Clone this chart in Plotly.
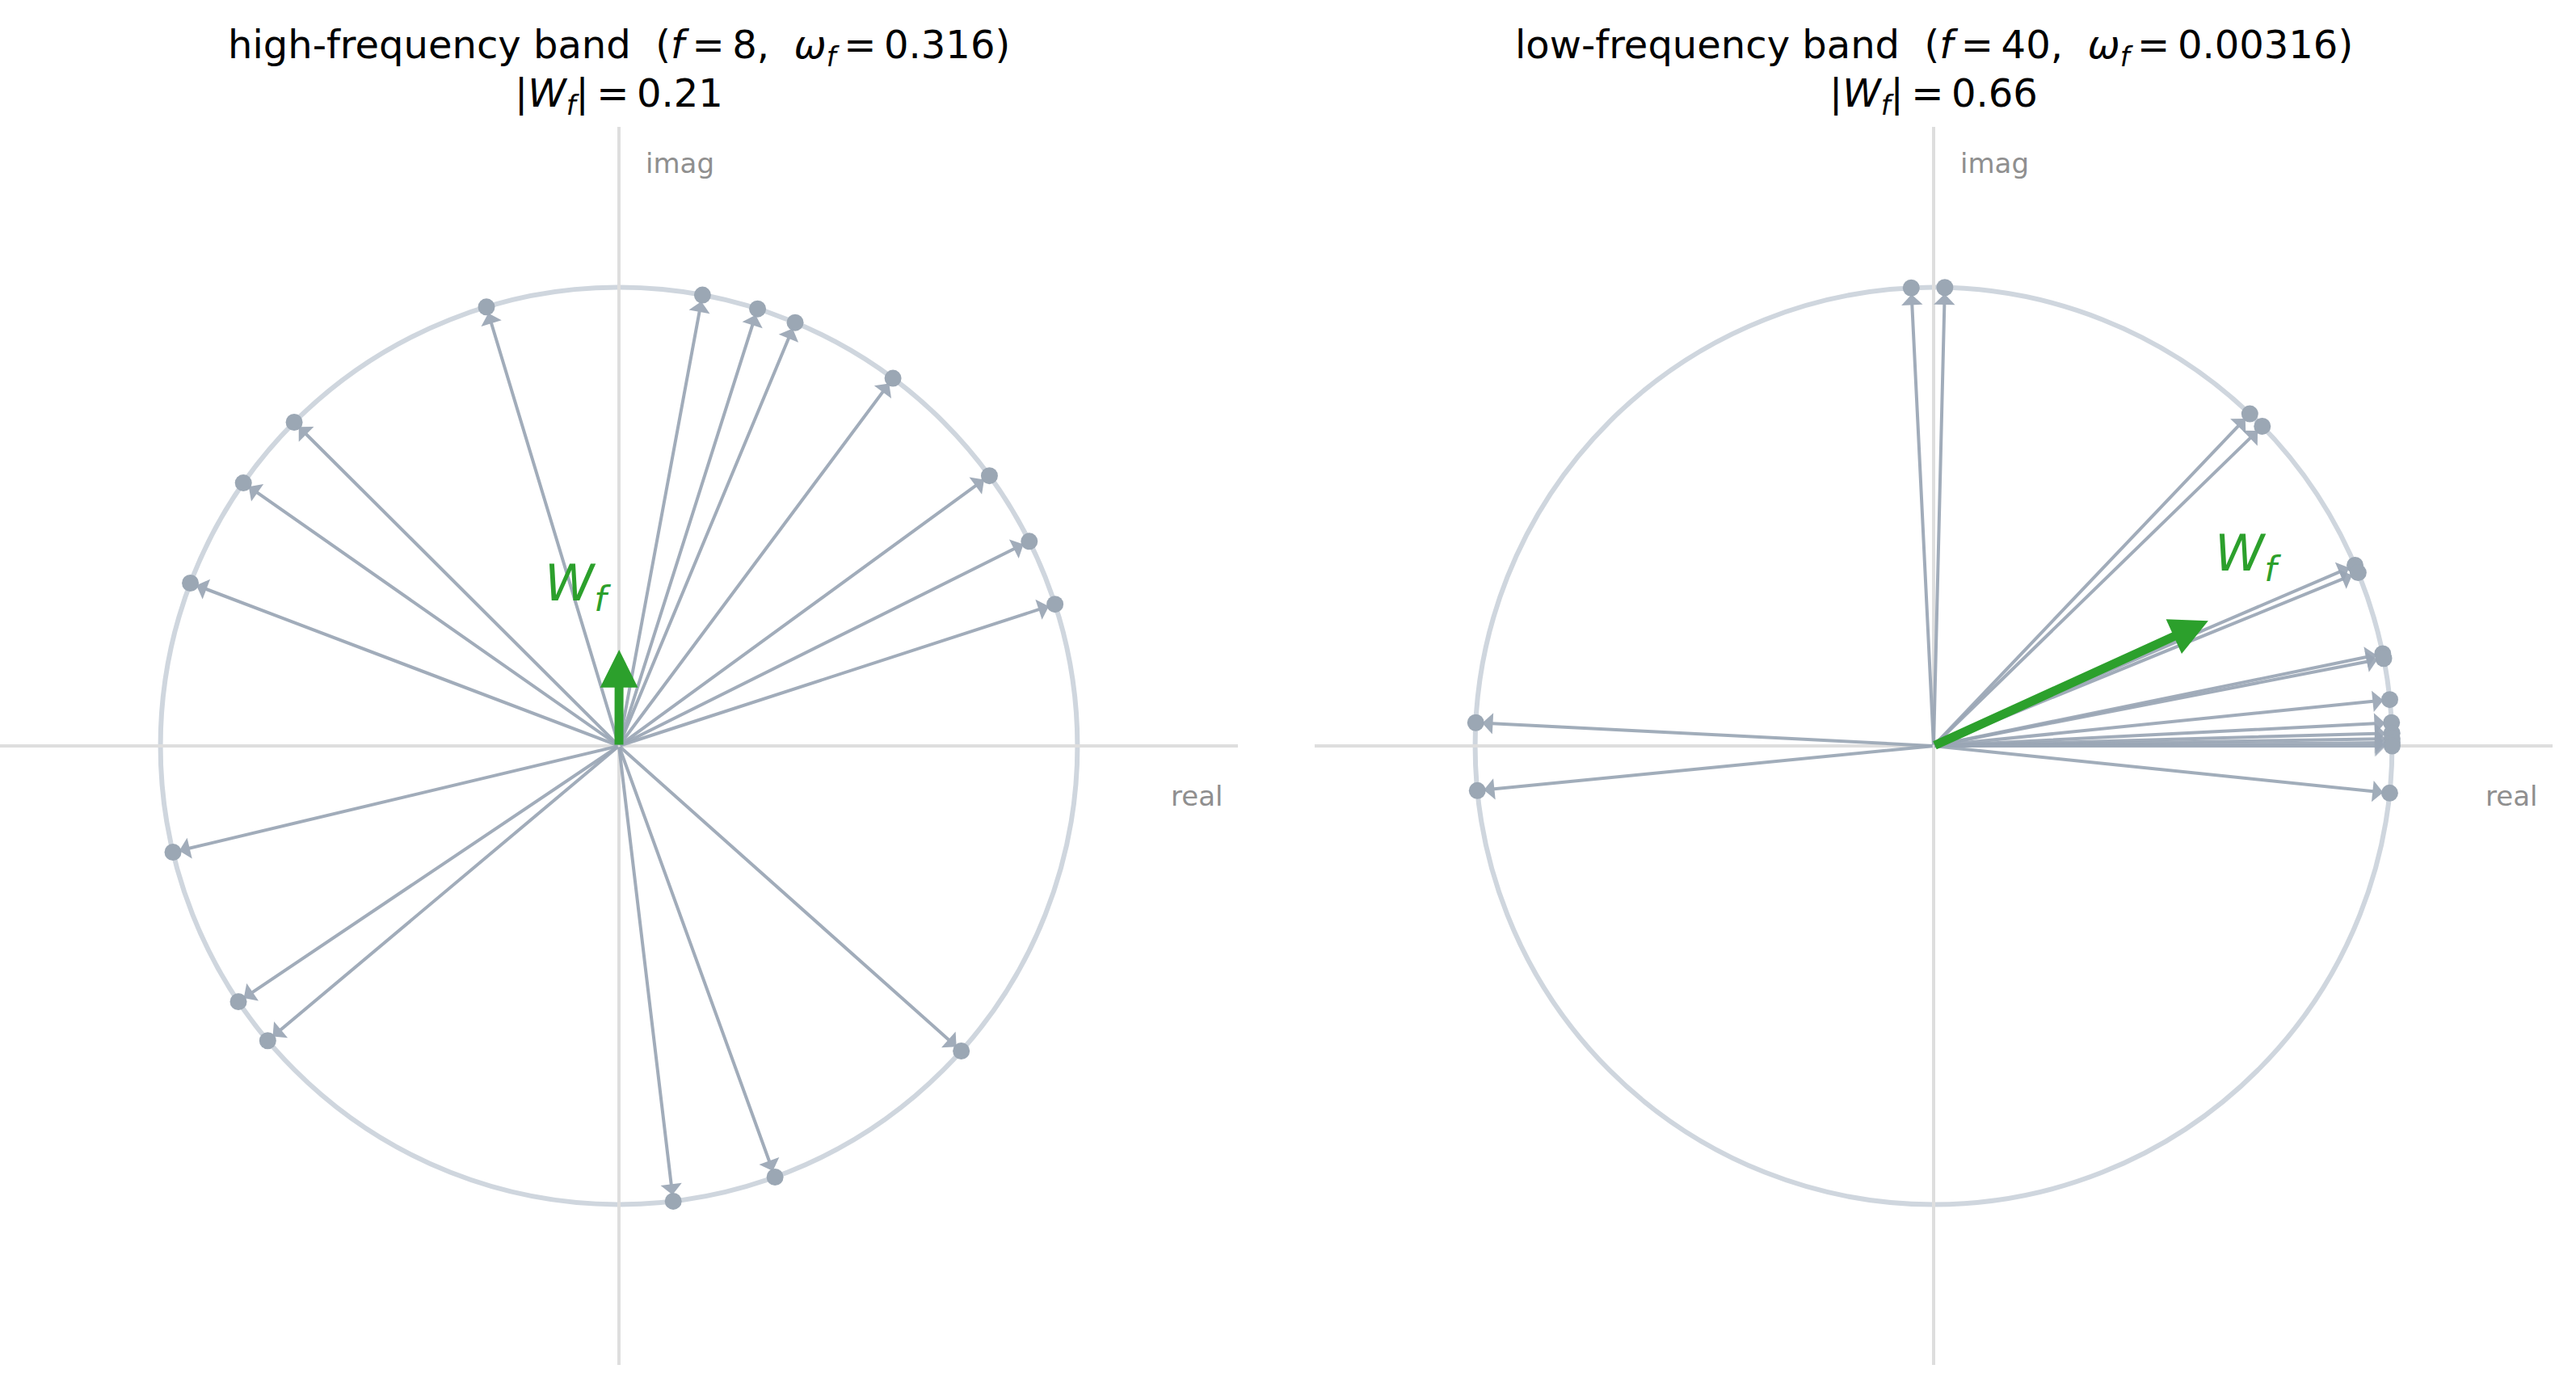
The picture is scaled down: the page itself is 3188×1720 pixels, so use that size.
import numpy as np
import plotly.graph_objects as go

# ---- data (phase angles in degrees of unit phasors) ----
panel_titles = ["high-frequency band", "low-frequency band"]
f_values = ["8", "40"]
omega_values = ["0.316", "0.00316"]
wf_magnitude_text = ["0.21", "0.66"]

high_band_angles = [106.8, 135.1, 145.0, 159.2, 193.4, 213.9, 220.0, 276.8, 289.9,
                    318.3, 18.0, 26.5, 36.1, 53.3, 67.4, 72.4, 79.5]
low_band_angles = [92.8, 88.6, 46.4, 44.2, 23.2, 22.2, 11.6, 11.0, 5.8, 2.9,
                   1.6, 0.9, 0.4, 0.0, -5.9, 177.1, 185.6]

# ---- styles ----
FONT = "DejaVu Sans"
GREY_LINE = "rgba(154,166,181,0.92)"
GREY_DOT = "#9ba7b4"
CIRCLE = "#cfd6de"
AXIS = "#dedede"
GREEN = "#2ca02c"
LABEL_GREY = "#8f8f8f"
LIM = 1.35

fig = go.Figure()
annotations = []
shapes = []

panels = [
    dict(angles=high_band_angles, xa="x", ya="y", wf_offset=(-0.09, 0.138)),
    dict(angles=low_band_angles, xa="x2", ya="y2", wf_offset=(0.087, 0.14)),
]

for i, p in enumerate(panels):
    ang = np.deg2rad(np.array(p["angles"], dtype=float))
    xs, ys = np.cos(ang), np.sin(ang)
    xa, ya = p["xa"], p["ya"]

    # unit circle
    shapes.append(dict(type="circle", xref=xa, yref=ya, x0=-1, y0=-1, x1=1, y1=1,
                       line=dict(color=CIRCLE, width=6), layer="below"))

    # phasor arrows (origin -> point on the unit circle)
    for x, y in zip(xs, ys):
        annotations.append(dict(x=x, y=y, ax=0, ay=0, xref=xa, yref=ya, axref=xa, ayref=ya,
                                text="", showarrow=True, arrowhead=1, arrowsize=1.1,
                                arrowwidth=4, arrowcolor=GREY_LINE, standoff=8))
    # endpoint dots
    fig.add_trace(go.Scatter(x=xs, y=ys, mode="markers", xaxis=xa, yaxis=ya,
                             marker=dict(size=21, color=GREY_DOT, line=dict(width=0)),
                             hoverinfo="skip", showlegend=False))

    # mean vector W_f
    wx, wy = xs.mean(), ys.mean()
    annotations.append(dict(x=wx, y=wy, ax=0, ay=0, xref=xa, yref=ya, axref=xa, ayref=ya,
                            text="", showarrow=True, arrowhead=2, arrowsize=0.85,
                            arrowwidth=11, arrowcolor=GREEN, standoff=0))
    annotations.append(dict(x=wx + p["wf_offset"][0], y=wy + p["wf_offset"][1],
                            xref=xa, yref=ya, showarrow=False,
                            text="<i>W</i><sub><i>f</i></sub>",
                            font=dict(family=FONT, size=62, color=GREEN),
                            xanchor="center", yanchor="middle"))

    # axis labels
    annotations.append(dict(x=0.055, y=1.27, xref=xa, yref=ya, showarrow=False, text="imag",
                            font=dict(family=FONT, size=34, color=LABEL_GREY),
                            xanchor="left", yanchor="middle"))
    annotations.append(dict(x=1.32, y=-0.11, xref=xa, yref=ya, showarrow=False, text="real",
                            font=dict(family=FONT, size=34, color=LABEL_GREY),
                            xanchor="right", yanchor="middle"))

    # titles
    dom_ref = ("x" if i == 0 else "x2") + " domain"
    nb = "\u00a0"
    th = "\u2009"
    line1 = (f"{panel_titles[i]}{nb}{nb}(<i>f</i>{th}={th}{f_values[i]},{nb}{nb}"
             f"<i>ω</i><sub><i>f</i></sub>{th}={th}{omega_values[i]})")
    line2 = f"|<i>W</i><sub><i>f</i></sub>|{th}={th}{wf_magnitude_text[i]}"
    annotations.append(dict(x=0.5, y=1 - 58 / 1720, xref=dom_ref, yref="paper", showarrow=False,
                            text=line1, font=dict(family=FONT, size=48, color="black"),
                            xanchor="center", yanchor="middle"))
    annotations.append(dict(x=0.5, y=1 - 119 / 1720, xref=dom_ref, yref="paper", showarrow=False,
                            text=line2, font=dict(family=FONT, size=48, color="black"),
                            xanchor="center", yanchor="middle"))

W, H = 3188, 1720
side = 1532
ax_common = dict(range=[-LIM, LIM], showgrid=False, showticklabels=False, ticks="",
                 zeroline=True, zerolinecolor=AXIS, zerolinewidth=4, showline=False,
                 fixedrange=True)
ydom = [31 / H, (31 + side) / H]
fig.update_layout(
    width=W, height=H,
    margin=dict(l=0, r=0, t=0, b=0),
    paper_bgcolor="white", plot_bgcolor="white",
    xaxis=dict(domain=[0, side / W], anchor="y", **ax_common),
    yaxis=dict(domain=ydom, anchor="x", **ax_common),
    xaxis2=dict(domain=[1627 / W, (1627 + side) / W], anchor="y2", **ax_common),
    yaxis2=dict(domain=ydom, anchor="x2", **ax_common),
    annotations=annotations,
    shapes=shapes,
    showlegend=False,
    font=dict(family=FONT),
)

fig.write_html("out.html")
